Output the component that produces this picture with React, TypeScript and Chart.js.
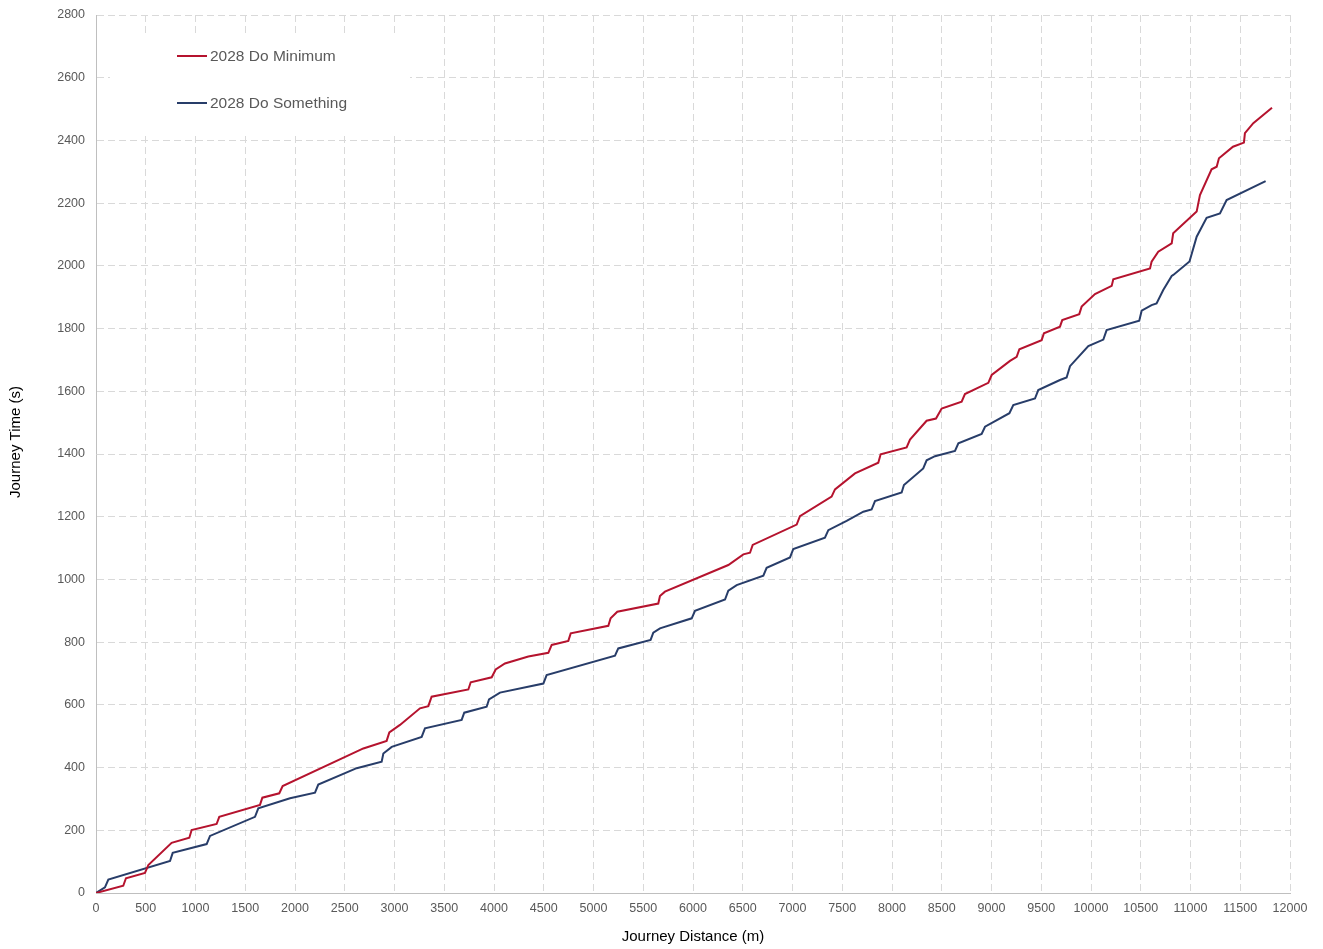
import React, { useEffect, useRef } from "react";
import { Chart, registerables } from "chart.js";

Chart.register(...registerables);

const doMinimumDistance = [
  0, 274, 301, 492, 526, 760, 938, 961, 1212, 1239, 1648, 1672, 1842, 1876, 2687, 2921, 2948, 3055,
  3256, 3340, 3373, 3742, 3766, 3977, 4017, 4110, 4345, 4546, 4580, 4747, 4771, 5149, 5172, 5239,
  5651, 5668, 5718, 6355, 6506, 6573, 6600, 7042, 7075, 7393, 7427, 7628, 7862, 7886, 8147, 8181,
  8348, 8442, 8499, 8700, 8733, 8968, 9002, 9186, 9253, 9280, 9504, 9527, 9688, 9711, 9882, 9906,
  10040, 10208, 10224, 10593, 10609, 10676, 10811, 10826, 11062, 11095, 11212, 11263, 11286, 11427,
  11537, 11547, 11631, 11819,
];
const doMinimumTime = [
  0, 23, 47, 64, 89, 160, 176, 201, 220, 243, 281, 304, 318, 341, 461, 485, 512, 536,
  589, 596, 626, 649, 672, 688, 713, 732, 754, 766, 791, 804, 828, 852, 876, 897,
  923, 947, 961, 1046, 1080, 1085, 1110, 1175, 1202, 1264, 1287, 1338, 1372, 1399, 1421, 1446,
  1506, 1513, 1545, 1567, 1591, 1627, 1652, 1697, 1710, 1734, 1763, 1785, 1806, 1827, 1846, 1870,
  1910, 1936, 1957, 1992, 2013, 2045, 2072, 2104, 2173, 2226, 2308, 2316, 2343, 2380,
  2393, 2423, 2455, 2504,
];

const doSomethingDistance = [
  0, 90, 124, 744, 771, 1112, 1146, 1598, 1631, 1950, 2201, 2234, 2620, 2871, 2888, 2972, 3273,
  3306, 3675, 3701, 3926, 3950, 4060, 4496, 4529, 5216, 5249, 5574, 5601, 5668, 5987, 6020, 6322,
  6355, 6439, 6707, 6740, 6975, 7008, 7326, 7360, 7544, 7712, 7795, 7829, 8097, 8120, 8314, 8348,
  8432, 8633, 8667, 8901, 8935, 9180, 9219, 9437, 9470, 9688, 9755, 9789, 9973, 10124, 10157,
  10485, 10509, 10609, 10659, 10726, 10811, 10827, 10990, 11062, 11162, 11296, 11363, 11755,
];
const doSomethingTime = [
  0, 18, 43, 102, 128, 156, 182, 243, 270, 302, 320, 346, 398, 419, 445, 466, 498,
  525, 552, 575, 594, 617, 639, 668, 695, 757, 780, 807, 830, 844, 876, 900, 936,
  964, 982, 1012, 1037, 1070, 1097, 1133, 1157, 1187, 1216, 1223, 1250, 1277, 1301, 1354, 1380,
  1393, 1410, 1434, 1464, 1487, 1530, 1556, 1577, 1604, 1636, 1644, 1680, 1744, 1765, 1795,
  1825, 1857, 1875, 1880, 1923, 1968, 1971, 2014, 2093, 2153, 2167, 2210, 2270,
];

const seriesNames = ["2028 Do Minimum", "2028 Do Something"];
const seriesColors = ["#b5132e", "#283d69"];

const FONT = "'Liberation Sans', Arial, sans-serif";

const legendPlugin = {
  id: "customLegend",
  beforeDatasetsDraw(chart: any) {
    const ctx = chart.ctx;
    ctx.save();
    ctx.fillStyle = "#ffffff";
    ctx.fillRect(110, 33, 300, 99);
    const rows = [56, 103];
    rows.forEach((y, i) => {
      ctx.strokeStyle = seriesColors[i];
      ctx.lineWidth = 2;
      ctx.beginPath();
      ctx.moveTo(177, y);
      ctx.lineTo(207, y);
      ctx.stroke();
      ctx.fillStyle = "#595959";
      ctx.font = `15.5px ${FONT}`;
      ctx.textBaseline = "middle";
      ctx.textAlign = "left";
      ctx.fillText(seriesNames[i], 210, y + 0.5);
    });
    ctx.restore();
  },
  afterDraw(chart: any) {
    const ctx = chart.ctx;
    ctx.save();
    ctx.fillStyle = "#000000";
    ctx.font = `15px ${FONT}`;
    ctx.textAlign = "center";
    ctx.textBaseline = "middle";
    ctx.translate(16, 442);
    ctx.rotate(-Math.PI / 2);
    ctx.fillText("Journey Time (s)", 0, 0);
    ctx.restore();
  },
};

export default function App() {
  const ref = useRef<HTMLCanvasElement | null>(null);

  useEffect(() => {
    if (!ref.current) return;
    const mk = (xs: number[], ys: number[]) => xs.map((x, i) => ({ x, y: ys[i] }));
    const plain = (v: any) => String(v);
    const chart = new Chart(ref.current, {
      type: "line",
      data: {
        datasets: [
          {
            label: seriesNames[0],
            data: mk(doMinimumDistance, doMinimumTime),
            borderColor: seriesColors[0],
            backgroundColor: seriesColors[0],
            borderWidth: 2,
            pointRadius: 0,
            tension: 0,
            fill: false,
          },
          {
            label: seriesNames[1],
            data: mk(doSomethingDistance, doSomethingTime),
            borderColor: seriesColors[1],
            backgroundColor: seriesColors[1],
            borderWidth: 2,
            pointRadius: 0,
            tension: 0,
            fill: false,
          },
        ],
      },
      options: {
        responsive: false,
        animation: false,
        layout: { padding: { left: 0, right: 33, top: 0, bottom: 0 } },
        plugins: {
          legend: { display: false },
          tooltip: { enabled: false },
          title: { display: false },
        },
        scales: {
          x: {
            type: "linear",
            min: 0,
            max: 12000,
            ticks: {
              stepSize: 500,
              color: "#595959",
              font: { family: FONT, size: 12.5 },
              padding: 8,
              maxRotation: 0,
              autoSkip: false,
              callback: plain,
            },
            grid: { color: "#d9d9d9", lineWidth: 1, drawTicks: false },
            border: { display: true, color: "#bfbfbf", width: 1, dash: [7, 4] },
            title: {
              display: true,
              text: "Journey Distance (m)",
              color: "#000000",
              font: { family: FONT, size: 15 },
              padding: { top: 0, bottom: 3 },
            },
            afterFit: (s: any) => {
              s.height = 56;
            },
          },
          y: {
            type: "linear",
            min: 0,
            max: 2800,
            ticks: {
              stepSize: 200,
              color: "#595959",
              font: { family: FONT, size: 12.5 },
              padding: 11,
              callback: plain,
            },
            grid: { color: "#d9d9d9", lineWidth: 1, drawTicks: false },
            border: { display: true, color: "#bfbfbf", width: 1, dash: [7, 4] },
            afterFit: (s: any) => {
              s.width = 96;
              s.paddingTop = 15;
              s.paddingBottom = 0;
            },
          },
        },
      },
      plugins: [legendPlugin],
    });
    return () => chart.destroy();
  }, []);

  return (
    <div style={{ position: "fixed", left: 0, top: 0, width: 1323, height: 949, background: "#fff" }}>
      <canvas ref={ref} width={1323} height={949} style={{ display: "block" }} />
    </div>
  );
}
